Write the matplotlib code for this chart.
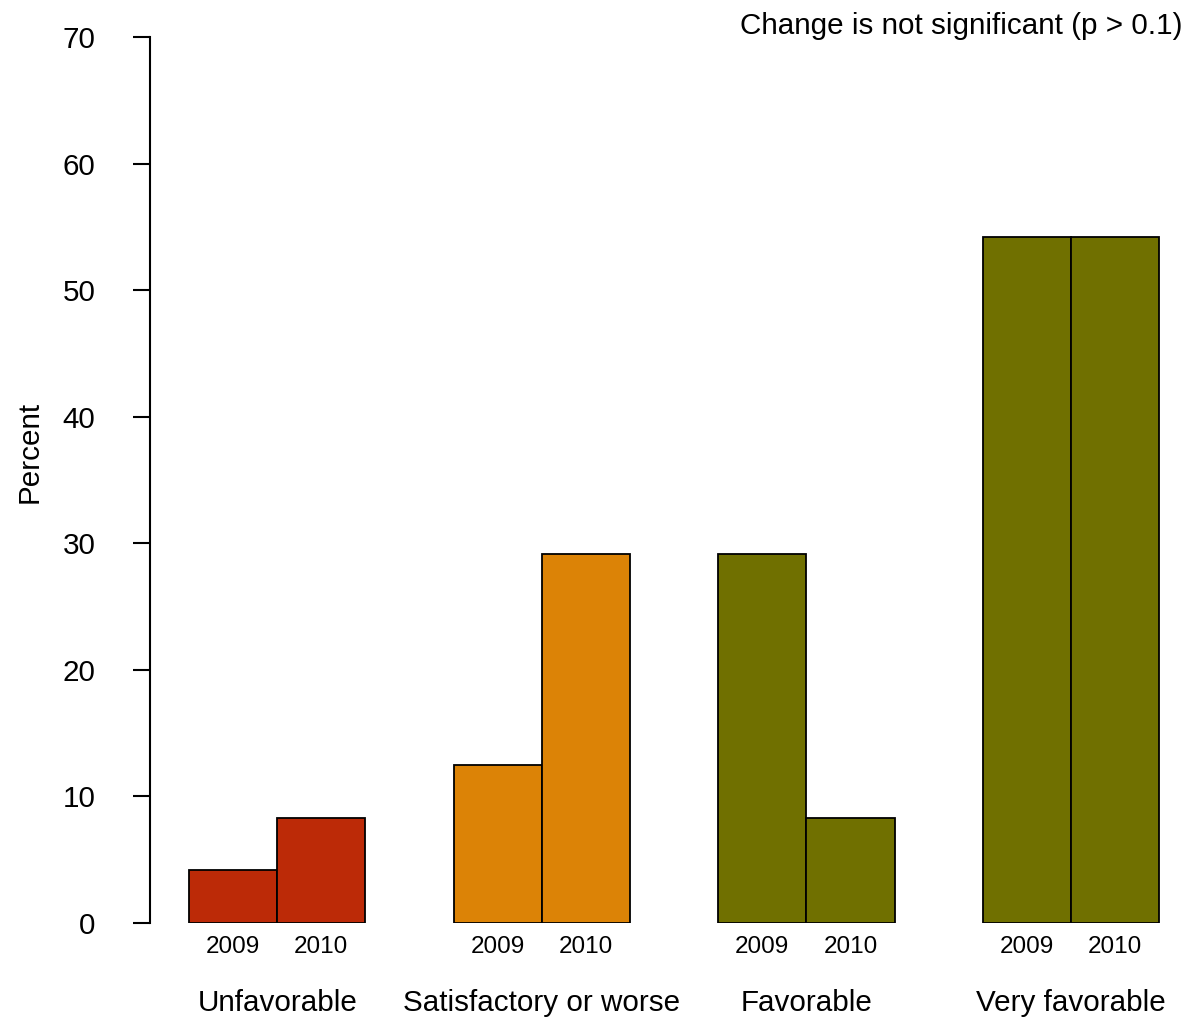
import matplotlib
matplotlib.use("Agg")
import matplotlib.pyplot as plt
import numpy as np

# Survey results, share of responses per rating
categories = ["Unfavorable", "Satisfactory or worse", "Favorable", "Very favorable"]
years = ["2009", "2010"]
pct_2009 = [4.17, 12.5, 29.17, 54.17]
pct_2010 = [8.33, 29.17, 8.33, 54.17]
colors = ["#BC2A07", "#DC8306", "#707000", "#707000"]
y_ticks = [0, 10, 20, 30, 40, 50, 60, 70]

W, H = 1189, 1022
plt.rcParams['font.family'] = ['Liberation Sans', 'DejaVu Sans']
fig = plt.figure(figsize=(W / 100, H / 100), dpi=100)

# axes: y-axis at x=150px, 0 at y=923px, 70 at y=37px
ax = fig.add_axes([150 / W, (H - 923) / H, (W - 150) / W, 886 / H])
px = 88.2  # pixels per bar width
ax.set_xlim(-39 / px, (W - 189) / px)
ax.set_ylim(0, 70)

for g in range(len(categories)):
    vals = [pct_2009[g], pct_2010[g]]
    for i, v in enumerate(vals):
        left = 3 * g + i
        ax.bar(left, v, width=1, align="edge", color=colors[g],
               edgecolor="black", linewidth=1.3)
        ax.text(left + 0.5, -0.027, years[i], transform=ax.get_xaxis_transform(),
                ha="center", va="center", fontsize=17.5)
    ax.text(3 * g + 1, -0.0905, categories[g], transform=ax.get_xaxis_transform(),
            ha="center", va="center", fontsize=21.3)

for s in ["top", "right", "bottom"]:
    ax.spines[s].set_visible(False)
ax.spines["left"].set_bounds(0, 70)
ax.spines["left"].set_linewidth(1.5)
ax.set_xticks([])
ax.set_yticks(y_ticks)
ax.tick_params(axis="y", length=12.2, width=1.5, pad=27, labelsize=21.3)

fig.text(30 / W, 1 - 452 / H, "Percent", rotation=90, ha="center", va="center",
         fontsize=21.3)
fig.text(1183 / W, 1 - 26 / H, "Change is not significant (p > 0.1)",
         ha="right", va="center", fontsize=21.3)

fig.savefig("out.png", dpi=100)
